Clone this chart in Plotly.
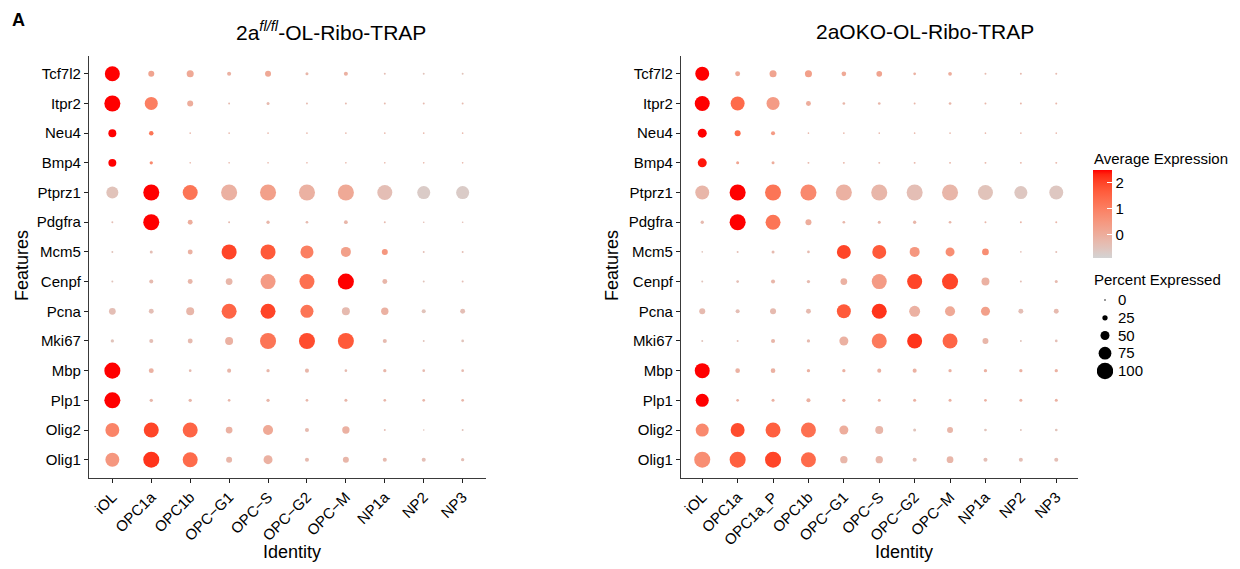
import plotly.graph_objects as go

W, H = 1240, 569

genes = ["Tcf7l2", "Itpr2", "Neu4", "Bmp4", "Ptprz1", "Pdgfra", "Mcm5", "Cenpf",
         "Pcna", "Mki67", "Mbp", "Plp1", "Olig2", "Olig1"]

clusters_left = ["iOL", "OPC1a", "OPC1b", "OPC\u2212G1", "OPC\u2212S", "OPC\u2212G2",
                 "OPC\u2212M", "NP1a", "NP2", "NP3"]
clusters_right = ["iOL", "OPC1a", "OPC1a_P", "OPC1b", "OPC\u2212G1", "OPC\u2212S",
                  "OPC\u2212G2", "OPC\u2212M", "NP1a", "NP2", "NP3"]

# percent expressed (rows = genes, cols = clusters)
pct_left = [
    [90, 30, 37, 17, 30, 10, 17, 3, 3, 3],
    [97, 77, 30, 3, 10, 3, 3, 3, 3, 3],
    [43, 20, 1, 1, 1, 1, 1, 1, 1, 1],
    [43, 12, 1, 1, 1, 1, 1, 1, 1, 1],
    [70, 97, 90, 97, 97, 97, 97, 90, 77, 77],
    [3, 97, 23, 3, 12, 8, 15, 3, 1, 1],
    [3, 10, 23, 90, 90, 77, 57, 30, 3, 3],
    [3, 17, 23, 35, 90, 90, 97, 23, 3, 3],
    [35, 23, 43, 90, 90, 77, 43, 39, 17, 23],
    [12, 17, 23, 43, 97, 97, 97, 17, 3, 8],
    [97, 23, 8, 17, 12, 17, 8, 12, 8, 8],
    [97, 12, 12, 8, 12, 8, 10, 8, 8, 8],
    [83, 90, 90, 35, 57, 17, 39, 3, 1, 3],
    [83, 97, 90, 30, 50, 17, 30, 17, 17, 12],
]
avg_left = [
    [2.5, 0.2, 0.1, -0.1, 0.1, -0.2, -0.1, -0.4, -0.5, -0.5],
    [2.5, 1.0, 0.0, -0.3, -0.3, -0.3, -0.3, -0.3, -0.3, -0.3],
    [2.5, 1.2, -0.2, -0.2, -0.2, -0.2, -0.2, -0.2, -0.2, -0.2],
    [2.5, 0.8, -0.2, -0.2, -0.2, -0.2, -0.2, -0.2, -0.2, -0.2],
    [-0.5, 2.5, 1.2, -0.1, 0.3, -0.1, 0.1, -0.4, -0.7, -0.7],
    [-0.4, 2.5, 0.0, -0.3, -0.2, -0.3, -0.2, -0.3, -0.4, -0.4],
    [-0.5, -0.4, -0.1, 2.0, 1.7, 1.0, 0.3, 0.5, -0.4, -0.4],
    [-0.5, -0.3, -0.2, -0.2, 0.4, 1.3, 2.5, -0.2, -0.5, -0.4],
    [-0.4, -0.4, -0.2, 1.5, 2.0, 1.2, -0.3, -0.1, -0.5, -0.4],
    [-0.5, -0.4, -0.3, -0.1, 1.2, 1.9, 1.7, -0.3, -0.5, -0.5],
    [2.5, -0.1, -0.3, -0.2, -0.2, -0.2, -0.3, -0.2, -0.3, -0.3],
    [2.5, -0.2, -0.2, -0.2, -0.2, -0.2, -0.2, -0.2, -0.2, -0.2],
    [0.9, 2.0, 1.5, -0.1, 0.1, -0.3, -0.1, -0.4, -0.5, -0.5],
    [0.5, 2.2, 1.4, -0.2, -0.1, -0.3, -0.2, -0.3, -0.4, -0.4],
]

pct_right = [
    [83, 23, 37, 37, 21, 28, 8, 15, 3, 3, 3],
    [90, 83, 77, 23, 8, 8, 3, 8, 3, 3, 3],
    [50, 30, 17, 1, 1, 1, 1, 1, 1, 1, 1],
    [50, 10, 10, 3, 3, 3, 3, 3, 3, 3, 3],
    [83, 97, 97, 97, 97, 97, 97, 97, 90, 77, 83],
    [12, 97, 90, 30, 8, 10, 12, 8, 3, 3, 3],
    [1, 3, 10, 8, 83, 83, 57, 50, 35, 1, 3],
    [3, 8, 17, 12, 35, 90, 90, 97, 43, 3, 10],
    [30, 17, 30, 23, 83, 90, 63, 57, 50, 23, 23],
    [3, 3, 17, 12, 50, 90, 90, 90, 30, 3, 8],
    [90, 21, 21, 12, 12, 17, 17, 12, 12, 12, 12],
    [77, 8, 10, 17, 12, 10, 10, 10, 8, 10, 10],
    [77, 83, 90, 90, 50, 43, 10, 30, 8, 3, 8],
    [97, 97, 97, 90, 39, 39, 17, 35, 17, 17, 17],
]
avg_right = [
    [2.5, 0.1, 0.2, 0.3, 0.1, 0.2, -0.1, 0.0, -0.3, -0.3, -0.3],
    [2.5, 1.4, 0.4, 0.0, -0.2, -0.2, -0.2, -0.2, -0.2, -0.2, -0.2],
    [2.5, 1.4, 0.4, -0.2, -0.2, -0.2, -0.2, -0.2, -0.2, -0.2, -0.2],
    [2.4, 0.2, 0.0, -0.2, -0.2, -0.2, -0.2, -0.2, -0.2, -0.2, -0.2],
    [-0.2, 2.5, 1.2, 0.8, -0.1, -0.2, -0.4, -0.2, -0.5, -0.6, -0.6],
    [-0.3, 2.5, 1.2, 0.0, -0.2, -0.2, -0.2, -0.2, -0.2, -0.2, -0.2],
    [-0.5, -0.4, -0.3, -0.3, 2.0, 1.7, 0.5, 0.7, 0.7, -0.4, -0.4],
    [-0.5, -0.4, -0.2, -0.3, -0.1, 0.4, 2.0, 2.0, -0.1, -0.4, -0.3],
    [-0.3, -0.4, -0.3, -0.3, 1.7, 2.2, -0.1, 0.1, 0.3, -0.4, -0.3],
    [-0.5, -0.4, -0.2, -0.3, -0.1, 1.1, 2.2, 1.5, -0.2, -0.5, -0.4],
    [2.5, -0.1, -0.1, -0.1, -0.1, -0.1, -0.1, -0.1, -0.1, -0.1, -0.1],
    [2.5, -0.1, -0.1, -0.1, -0.1, -0.1, -0.1, -0.1, -0.1, -0.1, -0.1],
    [0.8, 1.9, 1.6, 1.3, 0.0, -0.2, -0.5, -0.2, -0.5, -0.5, -0.5],
    [0.7, 1.6, 2.0, 1.4, -0.2, -0.2, -0.4, -0.2, -0.4, -0.4, -0.4],
]

size_breaks = [0, 25, 50, 75, 100]
color_ticks = [0, 1, 2]
CMIN, CMAX = -0.9, 2.5

titles = ["2a<sup><i>fl/fl</i></sup>-OL-Ribo-TRAP", "2aOKO-OL-Ribo-TRAP"]


# ---- Lab-space gradient lightgrey -> red (like ggplot2) ----
def srgb_to_lin(c):
    c = c / 255.0
    return c / 12.92 if c <= 0.04045 else ((c + 0.055) / 1.055) ** 2.4


def lin_to_srgb(c):
    c = max(0.0, min(1.0, c))
    v = 12.92 * c if c <= 0.0031308 else 1.055 * c ** (1 / 2.4) - 0.055
    return round(v * 255)


Xn, Yn, Zn = 0.95047, 1.0, 1.08883


def f_lab(t):
    return t ** (1 / 3) if t > 0.008856 else 7.787 * t + 16 / 116


def finv(t):
    return t ** 3 if t ** 3 > 0.008856 else (t - 16 / 116) / 7.787


def rgb2lab(rgb):
    r, g, b = [srgb_to_lin(c) for c in rgb]
    X = 0.4124 * r + 0.3576 * g + 0.1805 * b
    Y = 0.2126 * r + 0.7152 * g + 0.0722 * b
    Z = 0.0193 * r + 0.1192 * g + 0.9505 * b
    fx, fy, fz = f_lab(X / Xn), f_lab(Y / Yn), f_lab(Z / Zn)
    return (116 * fy - 16, 500 * (fx - fy), 200 * (fy - fz))


def lab2rgb(lab):
    L, a, b = lab
    fy = (L + 16) / 116
    fx = fy + a / 500
    fz = fy - b / 200
    X, Y, Z = Xn * finv(fx), Yn * finv(fy), Zn * finv(fz)
    r = 3.2406 * X - 1.5372 * Y - 0.4986 * Z
    g = -0.9689 * X + 1.8758 * Y + 0.0415 * Z
    bb = 0.0557 * X - 0.2040 * Y + 1.0570 * Z
    return (lin_to_srgb(r), lin_to_srgb(g), lin_to_srgb(bb))


lo, hi = rgb2lab((211, 211, 211)), rgb2lab((255, 0, 0))
colorscale = []
for i in range(21):
    t = i / 20
    lab = tuple(lo[k] + (hi[k] - lo[k]) * t for k in range(3))
    r, g, b = lab2rgb(lab)
    colorscale.append([t, f"rgb({r},{g},{b})"])


def px_x(p):
    return p / W


def px_y(p):
    return 1 - p / H


def dot_size(p):
    return 1.5 + 0.15 * p


FONT = "Liberation Sans, Arial, sans-serif"

fig = go.Figure()

panels = [
    (clusters_left, pct_left, avg_left, "x", "y"),
    (clusters_right, pct_right, avg_right, "x2", "y2"),
]
for clusters, pct, avg, xa, ya in panels:
    xs, ys, ss, cs = [], [], [], []
    for gi, g in enumerate(genes):
        for ci, c in enumerate(clusters):
            xs.append(c)
            ys.append(g)
            ss.append(dot_size(pct[gi][ci]))
            cs.append(avg[gi][ci])
    fig.add_trace(go.Scatter(
        x=xs, y=ys, mode="markers", xaxis=xa, yaxis=ya, showlegend=False,
        marker=dict(size=ss, color=cs, coloraxis="coloraxis", line=dict(width=0), opacity=1),
        hoverinfo="x+y",
    ))

# size legend
fig.add_trace(go.Scatter(
    x=[0] * len(size_breaks), y=size_breaks, mode="markers", xaxis="x3", yaxis="y3",
    showlegend=False, marker=dict(size=[dot_size(v) for v in size_breaks], color="#000000",
                                  opacity=1, line=dict(width=0)),
    hoverinfo="skip",
))

common_x = dict(type="category", showline=True, linecolor="#3a3a3a", linewidth=1.2,
                ticks="outside", ticklen=4, tickcolor="#222", tickwidth=1,
                tickangle=-45, showgrid=False, zeroline=False,
                tickfont=dict(family=FONT, size=15, color="black"))
common_y = dict(type="category", showline=True, linecolor="#3a3a3a", linewidth=1.2,
                ticks="outside", ticklen=4, tickcolor="#222", tickwidth=1,
                showgrid=False, zeroline=False, categoryorder="array",
                categoryarray=genes, range=[len(genes) - 0.4, -0.6],
                tickfont=dict(family=FONT, size=15, color="black"))

ydom = [px_y(477.5), px_y(56)]
fig.update_layout(
    width=W, height=H, margin=dict(l=0, r=0, t=0, b=0),
    paper_bgcolor="white", plot_bgcolor="white",
    font=dict(family=FONT, color="black"),
    xaxis=dict(common_x, domain=[px_x(89), px_x(486)], anchor="y",
               categoryorder="array", categoryarray=clusters_left,
               range=[-0.6, len(clusters_left) - 0.4]),
    yaxis=dict(common_y, domain=ydom, anchor="x"),
    xaxis2=dict(common_x, domain=[px_x(681), px_x(1077.5)], anchor="y2",
                categoryorder="array", categoryarray=clusters_right,
                range=[-0.6, len(clusters_right) - 0.4]),
    yaxis2=dict(common_y, domain=ydom, anchor="x2"),
    xaxis3=dict(domain=[px_x(1097), px_x(1113)], anchor="y3", range=[-1, 1],
                visible=False, fixedrange=True),
    yaxis3=dict(domain=[px_y(380), px_y(291)], anchor="x3", side="right",
                range=[112.7, -12.7], tickvals=size_breaks,
                ticktext=[str(v) for v in size_breaks], showline=False,
                showgrid=False, zeroline=False, ticks="", ticklabelstandoff=4,
                tickfont=dict(family=FONT, size=15, color="black")),
    coloraxis=dict(
        cmin=CMIN, cmax=CMAX, colorscale=colorscale,
        colorbar=dict(
            x=px_x(1093), xanchor="left", y=px_y(170), yanchor="top",
            thickness=19, thicknessmode="pixels", len=88, lenmode="pixels",
            xpad=0, ypad=0, outlinewidth=0, tickvals=color_ticks,
            ticks="inside", ticklen=5, tickcolor="white", tickwidth=1,
            tickfont=dict(family=FONT, size=15, color="black"),
        ),
    ),
)

ann = []
ann.append(dict(text="<b>A</b>", x=px_x(10), y=px_y(20), xanchor="left", yanchor="middle",
                font=dict(size=18, family=FONT, color="black")))
ann.append(dict(text=titles[0], x=px_x(331), y=px_y(31), xanchor="center", yanchor="middle",
                font=dict(size=21, family=FONT, color="black")))
ann.append(dict(text=titles[1], x=px_x(925), y=px_y(31), xanchor="center", yanchor="middle",
                font=dict(size=21, family=FONT, color="black")))
for xc in (22, 612):
    ann.append(dict(text="Features", x=px_x(xc), y=px_y(266), textangle=-90,
                    xanchor="center", yanchor="middle",
                    font=dict(size=18, family=FONT, color="black")))
for xc in (292, 904):
    ann.append(dict(text="Identity", x=px_x(xc), y=px_y(552), xanchor="center",
                    yanchor="middle", font=dict(size=18, family=FONT, color="black")))
ann.append(dict(text="Average Expression", x=px_x(1092), y=px_y(158), xanchor="left",
                yanchor="middle", font=dict(size=15, family=FONT, color="black")))
ann.append(dict(text="Percent Expressed", x=px_x(1092), y=px_y(279), xanchor="left",
                yanchor="middle", font=dict(size=15, family=FONT, color="black")))
for a in ann:
    a.update(xref="paper", yref="paper", showarrow=False)
fig.update_layout(annotations=ann)

fig.write_html(
    "out.html",
    config={"displayModeBar": False},
    post_script="document.body.style.margin='0';document.body.style.padding='0';",
)
